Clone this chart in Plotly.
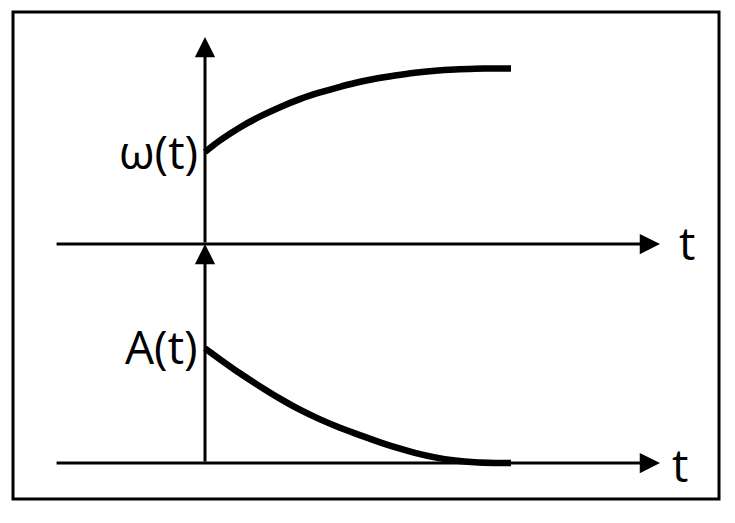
import plotly.graph_objects as go

# curves (t normalised so the curves end at t = 1)
t_omega = [0, 0.049, 0.114, 0.180, 0.245, 0.310, 0.376, 0.441, 0.490,
           0.556, 0.621, 0.686, 0.752, 0.817, 0.882, 0.948, 1.0]
omega = [0.526, 0.592, 0.666, 0.729, 0.782, 0.828, 0.866, 0.898, 0.920,
         0.944, 0.963, 0.979, 0.990, 0.997, 1.001, 1.003, 1.003]
t_amp = [0, 0.049, 0.114, 0.180, 0.245, 0.310, 0.376, 0.441, 0.490,
         0.556, 0.621, 0.686, 0.752, 0.817, 0.882, 0.948, 1.0]
amp = [1.015, 0.918, 0.794, 0.678, 0.570, 0.472, 0.386, 0.312, 0.262,
       0.198, 0.140, 0.090, 0.050, 0.023, 0.007, 0.001, 0.0]

labels = ["ω(t)", "A(t)"]
axis_label = "t"

# axis extents in data units
t_tail, t_tip = -0.49, 1.487
omega_tip = 1.183
amp_tip = 1.938

# page body has an 8px margin, so the figure is a bit smaller than the window
W, H = 719, 507
FONT = "Open Sans"

fig = go.Figure()
fig.add_trace(
    go.Scatter(
        x=t_omega, y=omega, mode="lines",
        line=dict(color="black", width=6.5, shape="spline", smoothing=0.8),
        yaxis="y", showlegend=False,
    )
)
fig.add_trace(
    go.Scatter(
        x=t_amp, y=amp, mode="lines",
        line=dict(color="black", width=6.5, shape="spline", smoothing=0.8),
        yaxis="y2", showlegend=False,
    )
)


def arrow(x, y, ax, ay, yref):
    return dict(
        x=x, y=y, ax=ax, ay=ay, xref="x", yref=yref, axref="x", ayref=yref,
        text="", showarrow=True, arrowhead=2, arrowsize=1.35, arrowwidth=3,
        arrowcolor="black", standoff=0, startstandoff=0,
    )


def label(x, y, yref, text, xanchor):
    return dict(x=x, y=y, xref="x", yref=yref, text=text, showarrow=False,
                xanchor=xanchor, yanchor="middle",
                font=dict(family=FONT, size=46, color="black"))


annotations = [
    arrow(t_tip, 0, t_tail, 0, "y"),
    arrow(0, omega_tip, 0, 0, "y"),
    arrow(t_tip, 0, t_tail, 0, "y2"),
    arrow(0, amp_tip, 0, 0, "y2"),
    label(-0.016, 0.53, "y", labels[0], "right"),
    label(-0.016, 1.035, "y2", labels[1], "right"),
    label(1.574, 0.009, "y", axis_label, "center"),
    label(1.553, -0.012, "y2", axis_label, "center"),
]

fig.update_layout(
    width=W, height=H, autosize=False,
    margin=dict(l=0, r=0, t=0, b=0),
    paper_bgcolor="white", plot_bgcolor="white",
    xaxis=dict(range=[-197 / 306, 522 / 306], visible=False, fixedrange=True),
    yaxis=dict(range=[-271 / 175, 236 / 175], visible=False, fixedrange=True),
    yaxis2=dict(range=[-52 / 113, 455 / 113], visible=False, overlaying="y", fixedrange=True),
    annotations=annotations,
    shapes=[
        dict(type="rect", xref="paper", yref="paper",
             x0=5 / W, x1=711 / W, y0=1 - 491 / H, y1=1 - 4 / H,
             line=dict(color="black", width=3)),
    ],
)

fig.write_html("out.html")
